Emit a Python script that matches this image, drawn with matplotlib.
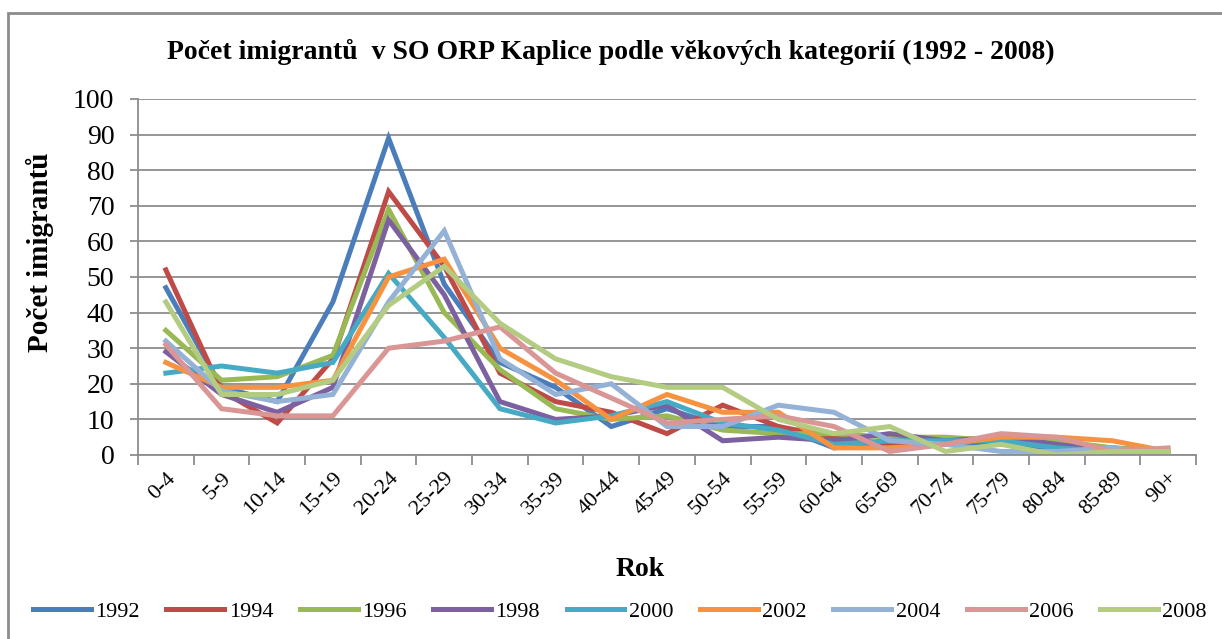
import matplotlib
matplotlib.use("Agg")
import matplotlib.pyplot as plt
from matplotlib.patches import Rectangle
import numpy as np

categories = ["0-4", "5-9", "10-14", "15-19", "20-24", "25-29", "30-34", "35-39",
              "40-44", "45-49", "50-54", "55-59", "60-64", "65-69", "70-74",
              "75-79", "80-84", "85-89", "90+"]
years = ["1992", "1994", "1996", "1998", "2000", "2002", "2004", "2006", "2008"]

s1992 = [47, 19, 15, 43, 89, 48, 26, 19, 8, 13, 8, 8, 2, 4, 3, 3, 2, 1, 1]
s1994 = [52, 18, 9, 27, 74, 53, 23, 15, 12, 6, 14, 8, 5, 3, 4, 4, 3, 2, 1]
s1996 = [35, 21, 22, 28, 69, 40, 24, 13, 10, 11, 7, 6, 6, 5, 5, 4, 4, 2, 1]
s1998 = [29, 17, 12, 19, 66, 45, 15, 10, 11, 14, 4, 5, 4, 6, 4, 5, 3, 1, 1]
s2000 = [23, 25, 23, 26, 51, 33, 13, 9, 11, 15, 9, 7, 3, 4, 4, 4, 2, 1, 1]
s2002 = [26, 19, 19, 21, 50, 55, 30, 21, 10, 17, 12, 12, 2, 2, 3, 5, 5, 4, 1]
s2004 = [32, 18, 15, 17, 43, 63, 27, 17, 20, 8, 8, 14, 12, 4, 3, 1, 1, 2, 0]
s2006 = [31, 13, 11, 11, 30, 32, 36, 23, 16, 9, 10, 11, 8, 1, 3, 6, 5, 1, 2]
s2008 = [43, 17, 17, 21, 42, 53, 37, 27, 22, 19, 19, 10, 6, 8, 1, 3, 0, 1, 1]

series = [s1992, s1994, s1996, s1998, s2000, s2002, s2004, s2006, s2008]
colors = ["#4A7DBA", "#BE4B48", "#98B954", "#7D60A0", "#46AAC5",
          "#F69240", "#94B2D6", "#D99694", "#B3CC82"]

plt.rcParams['font.family'] = ['Liberation Serif', 'DejaVu Serif']

fig = plt.figure(figsize=(12.22, 6.39), dpi=100)
ax = fig.add_axes([138/1222, 1-455/639, (1196-138)/1222, (455-99)/639])

x = np.arange(len(categories))
for s, c, y in zip(series, colors, years):
    ax.plot(x, s, color=c, lw=3.6, label=y, solid_joinstyle='miter')

ax.set_xlim(-0.5, len(categories) - 0.5)
ax.set_ylim(0, 100)
ax.set_yticks(np.arange(0, 101, 10))
ax.yaxis.grid(True, color="#8c8c8c", lw=1.3)
ax.set_axisbelow(True)
ax.set_xticks(x)
ax.set_xticklabels(categories, rotation=45, ha='right', rotation_mode='anchor', fontsize=16)
ax.set_xticks(np.arange(-0.5, len(categories), 1), minor=True)
ax.tick_params(axis='x', which='major', length=0, pad=10)
ax.tick_params(axis='x', which='minor', length=7, color="#8c8c8c", width=1.3, direction='out')
ax.tick_params(axis='y', length=6, color="#8c8c8c", width=1.3, labelsize=20, pad=11)
for sp in ['top', 'right']:
    ax.spines[sp].set_visible(False)
for sp in ['left', 'bottom']:
    ax.spines[sp].set_color("#8c8c8c")
    ax.spines[sp].set_linewidth(1.3)

fig.text(0.5, 1-52/639, "Počet imigrantů  v SO ORP Kaplice podle věkových kategorií (1992 - 2008)",
         ha='center', va='center', fontsize=20, fontweight='bold')
fig.text(640/1222, 1-570/639, "Rok", ha='center', va='center', fontsize=20, fontweight='bold')
fig.text(40/1222, 1-252/639, "Počet imigrantů", ha='center', va='center', rotation=90,
         fontsize=21, fontweight='bold')

fig.legend(loc='center', bbox_to_anchor=(620/1222, 1-612/639), ncol=9, frameon=False,
           fontsize=16, handlelength=2.6, handletextpad=0.2, columnspacing=1.2)

fig.patches.append(Rectangle((8/1222, -0.1), 1.2, 1.1 - 13/639, transform=fig.transFigure,
                             fill=False, edgecolor="#8c8c8c", lw=2))

fig.savefig("out.png", dpi=100)
